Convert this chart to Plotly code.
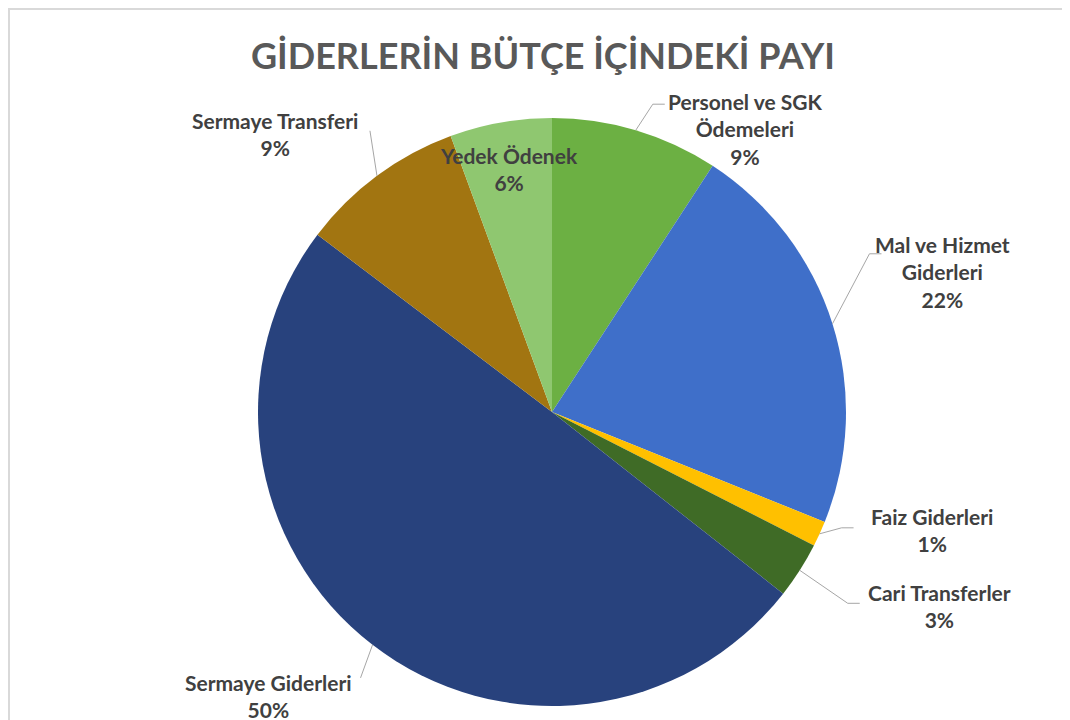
import math
import textwrap
import plotly.graph_objects as go

# budget share of each expense item (percent), clockwise from 12 o'clock
categories = ["Personel ve SGK Ödemeleri", "Mal ve Hizmet Giderleri", "Faiz Giderleri",
              "Cari Transferler", "Sermaye Giderleri", "Sermaye Transferi", "Yedek Ödenek"]
values = [9.2, 21.9, 1.4, 3.1, 49.7, 9.1, 5.6]
colors = ["#6cb043", "#3f6fc9", "#ffc000", "#3f6b26", "#28427d", "#a27511", "#8fc770"]

title = "GİDERLERİN BÜTÇE İÇİNDEKİ PAYI"

W, H = 1070, 720
OFF = 8  # page body margin
CX, CY, R = 552 - OFF, 412 - OFF, 294  # pie centre and radius in figure pixels

# label centre offsets (pixels from the slice's edge point); None = inside the slice
label_offsets = [(110, -1), (110, -52), (112, -4), (140, 36), (-104, 51), (-102, -42), None]
# leader lines: elbow offset from the edge point, then horizontal tail length
leaders = [((17, -26), 12), ((37, -70), 12), ((22, -6), 12), ((48, 33), 12),
           ((-12, 33), 0), ((-7, -45), 0), None]

label_font = dict(family="Lato", size=21, color="#404040")


def paper(px, py):
    return px / W, 1 - py / H


fig = go.Figure(go.Pie(
    labels=categories, values=values, sort=False, direction="clockwise", rotation=0,
    marker=dict(colors=colors, line=dict(width=0)),
    textinfo="none", hoverinfo="label+percent", showlegend=False,
    domain=dict(x=[(CX - R) / W, (CX + R) / W], y=[1 - (CY + R) / H, 1 - (CY - R) / H]),
))

total = sum(values)
cum = 0
for name, v, off, lead in zip(categories, values, label_offsets, leaders):
    mid = (cum + v / 2) / total * 2 * math.pi
    cum += v
    text = "<br>".join(textwrap.wrap(name, 17)) + f"<br>{v / total * 100:.0f}%"
    if off is None:
        r = 0.84 * R
        tx, ty = CX + r * math.sin(mid), CY - r * math.cos(mid)
    else:
        ex, ey = CX + R * math.sin(mid), CY - R * math.cos(mid)
        tx, ty = ex + off[0], ey + off[1]
        (dx, dy), tail = lead
        bx, by = ex + dx, ey + dy
        cx2 = bx + (tail if dx >= 0 else -tail)
        pts = [paper(ex, ey), paper(bx, by), paper(cx2, by)]
        path = "M {} {} L {} {} L {} {}".format(*[c for p in pts for c in p])
        fig.add_shape(type="path", path=path, xref="paper", yref="paper",
                      line=dict(color="#a6a6a6", width=1))
    x, y = paper(tx, ty)
    fig.add_annotation(x=x, y=y, xref="paper", yref="paper", xanchor="center", yanchor="middle",
                       text=f"<b>{text}</b>", showarrow=False, font=label_font)

fig.add_shape(type="rect", xref="paper", yref="paper",
              x0=1 / W, x1=1.05, y0=-0.05, y1=1 - 1 / H,
              line=dict(color="#d9d9d9", width=2))

fig.update_layout(
    title=dict(text=f"<b>{title}</b>", x=(543 - OFF) / W, xanchor="center",
               y=1 - (56 - OFF) / H, yanchor="middle",
               font=dict(family="Lato", size=36, color="#595959")),
    width=W, height=H,
    margin=dict(l=0, r=0, t=0, b=0),
    paper_bgcolor="white", plot_bgcolor="white",
)

fig.write_html("out.html")
